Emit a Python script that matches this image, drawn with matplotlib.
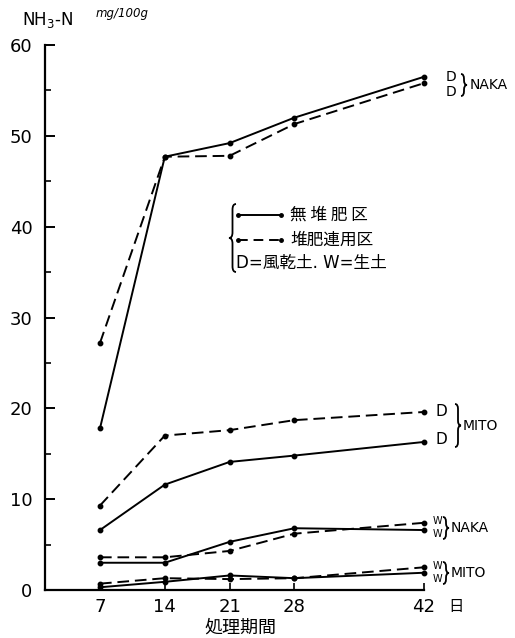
import matplotlib
matplotlib.use("Agg")
import matplotlib.pyplot as plt
from matplotlib.lines import Line2D
from matplotlib.path import Path
from matplotlib.patches import PathPatch

plt.rcParams['font.family'] = ['DejaVu Sans', 'Noto Sans CJK JP']

# ---- data ----
days = [7, 14, 21, 28, 42]
naka_d_solid = [17.8, 47.7, 49.2, 52.0, 56.5]
naka_d_dashed = [27.2, 47.7, 47.8, 51.3, 55.8]
mito_d_solid = [6.6, 11.6, 14.1, 14.8, 16.3]
mito_d_dashed = [9.3, 17.0, 17.6, 18.7, 19.6]
naka_w_solid = [3.0, 3.0, 5.3, 6.8, 6.6]
naka_w_dashed = [3.6, 3.6, 4.3, 6.2, 7.4]
mito_w_solid = [0.3, 0.9, 1.6, 1.3, 1.9]
mito_w_dashed = [0.7, 1.3, 1.2, 1.3, 2.5]
yticks = [0, 10, 20, 30, 40, 50, 60]
xticks = [7, 14, 21, 28, 42]

W, H = 515, 638
fig = plt.figure(figsize=(W / 100, H / 100), dpi=100)
ax = fig.add_axes([45 / W, 1 - 590 / H, (424 - 45) / W, (590 - 45) / H])

lw = 1.4
ms = 3.2
solid_kw = dict(color='black', lw=lw, marker='o', ms=ms, ls='-')
dash_kw = dict(color='black', lw=lw, marker='o', ms=ms, ls=(0, (6, 3)))

for s in [naka_d_solid, mito_d_solid, naka_w_solid, mito_w_solid]:
    ax.plot(days, s, **solid_kw, clip_on=False)
for s in [naka_d_dashed, mito_d_dashed, naka_w_dashed, mito_w_dashed]:
    ax.plot(days, s, **dash_kw, clip_on=False)

ax.set_xlim(1.06, 42)
ax.set_ylim(0, 60)
for sp in ['top', 'right']:
    ax.spines[sp].set_visible(False)
for sp in ['left', 'bottom']:
    ax.spines[sp].set_linewidth(1.6)

ax.set_yticks(yticks)
ax.set_yticks(range(5, 60, 10), minor=True)
ax.set_xticks(xticks)
ax.tick_params(axis='y', which='major', direction='in', length=7, width=1.4, pad=9, labelsize=13)
ax.tick_params(axis='y', which='minor', direction='in', length=4, width=1.2)
ax.tick_params(axis='x', which='major', direction='in', length=5, width=1.2, pad=6, labelsize=13)

def ftext(x, y, s, **kw):
    fig.text(x / W, 1 - y / H, s, **kw)

def brace(x, y1, y2, w, side='left', lw_b=1.3):
    # draws a curly brace in figure pixel coords (y downward)
    s = -1 if side == 'left' else 1
    ym = (y1 + y2) / 2
    pts = [
        (x + s * 0, y1), (x + s * w * 0.5, y1), (x + s * w * 0.5, y1 + w * 0.8),
        (x + s * w * 0.5, ym - w * 0.8),
        (x + s * w * 0.5, ym), (x + s * w, ym),
        (x + s * w * 0.5, ym), (x + s * w * 0.5, ym + w * 0.8),
        (x + s * w * 0.5, y2 - w * 0.8),
        (x + s * w * 0.5, y2), (x + s * 0, y2),
    ]
    codes = [Path.MOVETO, Path.CURVE3, Path.CURVE3, Path.LINETO,
             Path.CURVE3, Path.CURVE3, Path.CURVE3, Path.CURVE3,
             Path.LINETO, Path.CURVE3, Path.CURVE3]
    verts = [(px / W, 1 - py / H) for px, py in pts]
    p = PathPatch(Path(verts, codes), transform=fig.transFigure, fill=False,
                  lw=lw_b, color='black')
    fig.add_artist(p)

# y-axis unit label
ftext(22, 20, 'NH$_3$-N', fontsize=12, va='center', ha='left')
ftext(96, 14, 'mg/100g', fontsize=8.5, va='center', ha='left', style='italic')

# x label
ftext(240, 628, '処理期間', fontsize=13, va='center', ha='center',
      family=['Noto Sans CJK JP'])
ftext(456, 607, '日', fontsize=11, va='center', ha='center',
      family=['Noto Sans CJK JP'])

# right-side group labels
def group(xl, y1, y2, xb, by1, by2, xt, name, letter, fs_letter):
    ftext(xl, y1, letter, fontsize=fs_letter, va='center', ha='center')
    ftext(xl, y2, letter, fontsize=fs_letter, va='center', ha='center')
    brace(xb, by1, by2, 6, side='right')
    ftext(xt, (by1 + by2) / 2, name, fontsize=10, va='center', ha='left')

group(451, 77, 92, 461, 74, 96, 470, 'NAKA', 'D', 10)
group(441, 411, 440, 455, 404, 447, 463, 'MITO', 'D', 11)
group(437, 521, 534, 443, 517, 539, 451, 'NAKA', 'W', 7)
group(437, 566, 579, 443, 562, 584, 451, 'MITO', 'W', 7)

# legend
brace(236, 204, 272, 7, side='left')
l1 = Line2D([238 / W, 281 / W], [1 - 215 / H, 1 - 215 / H], transform=fig.transFigure,
            color='black', lw=lw, marker='o', ms=2.5)
l2 = Line2D([238 / W, 281 / W], [1 - 240 / H, 1 - 240 / H], transform=fig.transFigure,
            color='black', lw=lw, marker='o', ms=2.5, ls=(0, (5, 3)))
fig.add_artist(l1)
fig.add_artist(l2)
ftext(290, 215, '無 堆 肥 区', fontsize=12, va='center', ha='left', family=['Noto Sans CJK JP'])
ftext(290, 240, '堆肥連用区', fontsize=12, va='center', ha='left', family=['Noto Sans CJK JP'])
ftext(236, 263, 'D=風乾土. W=生土', fontsize=12, va='center', ha='left',
      family=['DejaVu Sans', 'Noto Sans CJK JP'])

fig.savefig('out.png', dpi=100)
